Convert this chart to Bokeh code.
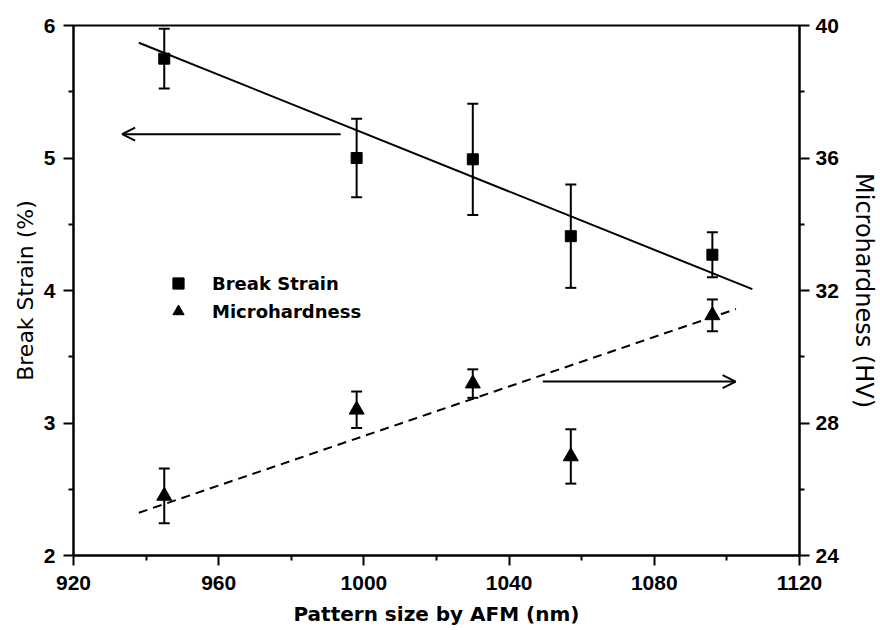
from bokeh.plotting import figure
from bokeh.models import (Range1d, LinearAxis, Whisker, TeeHead, ColumnDataSource,
                          Arrow, OpenHead, Legend, LegendItem, FixedTicker)
from bokeh.embed import file_html
from bokeh.resources import INLINE

# ---- data ----
pattern_size = [945, 998, 1030, 1057, 1096]
break_strain = [5.75, 5.00, 4.99, 4.41, 4.27]
break_strain_err = [0.225, 0.296, 0.42, 0.39, 0.17]
microhardness = [25.80, 28.40, 29.19, 26.99, 31.25]
microhardness_err = [0.83, 0.55, 0.43, 0.82, 0.48]

strain_fit_x = [938, 1107]
strain_fit_y = [5.87, 4.01]
hv_fit_x = [938, 1102.5]
hv_fit_y = [25.29, 31.44]

x_ticks = [920, 960, 1000, 1040, 1080, 1120]
left_ticks = [2, 3, 4, 5, 6]
right_ticks = [24, 28, 32, 36, 40]

# arrow annotations (data coordinates, left axis)
left_arrow = dict(x_start=993.6, x_end=933.4, y=5.18)
right_arrow = dict(x_start=1049.3, x_end=1102.4, y=3.313)

TICK_FONT = "Liberation Sans"
LABEL_FONT = "DejaVu Sans"

p = figure(width=880, height=630, output_backend="svg", toolbar_location=None,
           x_range=Range1d(920, 1120), y_range=Range1d(2, 6),
           min_border_left=73, min_border_right=81, min_border_top=25, min_border_bottom=75)
p.extra_y_ranges = {"hv": Range1d(24, 40)}
p.xgrid.visible = False
p.ygrid.visible = False
p.outline_line_color = "black"
p.outline_line_width = 2
p.outline_line_alpha = 1
p.background_fill_color = "white"
p.border_fill_color = "white"

right_axis = LinearAxis(y_range_name="hv")
p.add_layout(right_axis, "right")

def style_axis(ax, ticks, minor):
    ax.ticker = FixedTicker(ticks=ticks, minor_ticks=minor)
    ax.axis_line_width = 2
    ax.axis_line_color = "black"
    ax.major_tick_line_width = 2
    ax.minor_tick_line_width = 2
    ax.major_tick_out = 10
    ax.major_tick_in = 0
    ax.minor_tick_out = 5
    ax.minor_tick_in = 0
    ax.major_label_text_font = TICK_FONT
    ax.major_label_text_font_style = "bold"
    ax.major_label_text_font_size = "21px"
    ax.major_label_text_color = "black"
    ax.axis_label_text_font = LABEL_FONT
    ax.axis_label_text_color = "black"

style_axis(p.xaxis[0], x_ticks, [940, 980, 1020, 1060, 1100])
style_axis(p.yaxis[0], left_ticks, [2.5, 3.5, 4.5, 5.5])
style_axis(right_axis, right_ticks, [26, 30, 34, 38])

p.xaxis[0].axis_label = "Pattern size by AFM (nm)"
p.xaxis[0].axis_label_text_font_style = "bold"
p.xaxis[0].axis_label_text_font_size = "20px"
p.xaxis[0].axis_label_standoff = 9
p.xaxis[0].major_label_standoff = 10

p.yaxis[0].axis_label = "Break Strain (%)"
p.yaxis[0].axis_label_text_font_style = "normal"
p.yaxis[0].axis_label_text_font_size = "22px"
p.yaxis[0].axis_label_standoff = 3
p.yaxis[0].major_label_standoff = 8

right_axis.axis_label = "Microhardness (HV)"
right_axis.axis_label_text_font_style = "normal"
right_axis.axis_label_text_font_size = "24px"
right_axis.axis_label_standoff = 8
right_axis.major_label_standoff = 6

# ---- error bars ----
src_s = ColumnDataSource(dict(x=pattern_size,
                              lo=[v - e for v, e in zip(break_strain, break_strain_err)],
                              hi=[v + e for v, e in zip(break_strain, break_strain_err)]))
src_h = ColumnDataSource(dict(x=pattern_size,
                              lo=[v - e for v, e in zip(microhardness, microhardness_err)],
                              hi=[v + e for v, e in zip(microhardness, microhardness_err)]))
for src, rng in ((src_s, "default"), (src_h, "hv")):
    w = Whisker(source=src, base="x", lower="lo", upper="hi", dimension="height",
                line_width=2, line_color="black", y_range_name=rng,
                upper_head=TeeHead(size=11, line_width=2, line_color="black"),
                lower_head=TeeHead(size=11, line_width=2, line_color="black"))
    p.add_layout(w)

# ---- fit lines ----
p.line(strain_fit_x, strain_fit_y, line_color="black", line_width=2)
p.line(hv_fit_x, hv_fit_y, line_color="black", line_width=2, line_dash="9 6",
       y_range_name="hv")

# ---- markers ----
r_sq = p.scatter(pattern_size, break_strain, marker="square", size=11,
                 fill_color="black", line_color="black")
r_tri = p.scatter(pattern_size, microhardness, marker="triangle", size=15,
                  fill_color="black", line_color="black", y_range_name="hv")

# ---- arrows ----
p.add_layout(Arrow(end=OpenHead(size=13, line_width=2, line_color="black"),
                   x_start=left_arrow["x_start"], x_end=left_arrow["x_end"],
                   y_start=left_arrow["y"], y_end=left_arrow["y"],
                   line_width=2, line_color="black"))
p.add_layout(Arrow(end=OpenHead(size=13, line_width=2, line_color="black"),
                   x_start=right_arrow["x_start"], x_end=right_arrow["x_end"],
                   y_start=right_arrow["y"], y_end=right_arrow["y"],
                   line_width=2, line_color="black"))

# ---- legend ----
legend = Legend(items=[LegendItem(label="Break Strain", renderers=[r_sq]),
                       LegendItem(label="Microhardness", renderers=[r_tri])],
                location=(91, 230), margin=0, padding=0, spacing=-1,
                glyph_width=28, glyph_height=28, label_standoff=20,
                label_text_font=LABEL_FONT, label_text_font_style="bold",
                label_text_font_size="18px", label_text_color="black",
                border_line_color=None, background_fill_alpha=0)
p.add_layout(legend)

open("out.html", "w").write(file_html(p, INLINE))
